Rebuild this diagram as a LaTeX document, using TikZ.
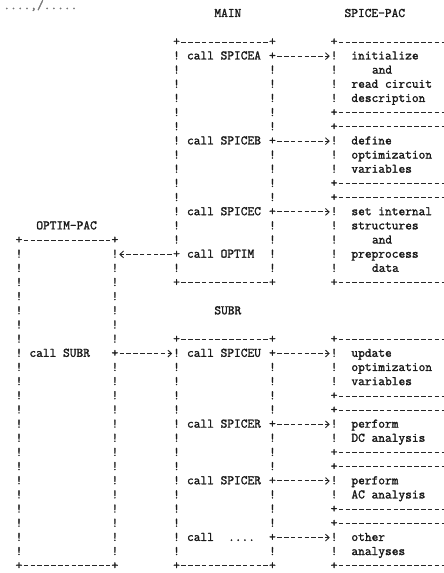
\documentclass[tikz,border=0pt]{standalone}
\usepackage{fontspec}
\newfontfamily\tw[FakeBold=1.6]{Latin Modern Mono}
\usetikzlibrary{arrows.meta}
\begin{document}
\begin{tikzpicture}[x=6.85bp, y=-14.16bp]
\tikzset{
 ch/.style={font=\tw\fontsize{13.05bp}{14bp}\selectfont, text=black!90, inner sep=0pt, text height=6.6bp, text depth=0pt, anchor=center},
 wd/.style={ch, anchor=west},
 dl/.style={draw=black!85, line width=0.95bp, dash pattern=on 4.6bp off 2.25bp, dash phase=5.75bp},
 conn/.style={dl, -{Straight Barb[length=3.6bp,width=6.8bp,line width=0.95bp]}, shorten >=0.8bp},
}
% canvas: col c centre at 19bp+6.85bp*c, row r centre at 42bp+14.16bp*r from top
\useasboundingbox[fill=white] (-2.774,-2.966) rectangle (62.044,37.5);

% stray scan text at top
\node[wd, text=black!55] (junk) at (-2.3,-2.55) {....,/.....};

% titles
\node[wd] (tMain) at (28.5,-2) {MAIN};
\node[wd] (tSpice) at (47.5,-2) {SPICE-PAC};
\node[wd] (tOptim) at (2.5,13) {OPTIM-PAC};
\node[wd] (tSubr) at (28.5,19) {SUBR};

% ---------------- OPTIM-PAC box
\node[ch] (otl) at (0,14) {+};
\node[ch] (otr) at (14,14) {+};
\node[ch] (obl) at (0,37) {+};
\node[ch] (obr) at (14,37) {+};
\draw[dl] (otl.east) -- (otr.west);
\draw[dl] (obl.east) -- (obr.west);
\foreach \r in {15,16,...,36} \node[ch] (oL\r) at (0,\r) {!};
\foreach \r in {15,16,...,21} \node[ch] (oR\r) at (14,\r) {!};
\foreach \r in {23,24,...,36} \node[ch] (oR\r) at (14,\r) {!};
\node[ch] (oP22) at (14,22) {+};
\node[wd] (callSubr) at (1.5,22) {call SUBR};

% ---------------- MAIN box
\node[ch] (mtl) at (23,0) {+};
\node[ch] (mtr) at (37,0) {+};
\node[ch] (mbl) at (23,17) {+};
\node[ch] (mbr) at (37,17) {+};
\draw[dl] (mtl.east) -- (mtr.west);
\draw[dl] (mbl.east) -- (mbr.west);
\foreach \r in {1,2,...,14,16} \node[ch] (mL\r) at (23,\r) {!};
\node[ch] (mP15) at (23,15) {+};
\foreach \r in {2,3,4,5,6,8,9,10,11,13,14,15,16} \node[ch] (mR\r) at (37,\r) {!};
\foreach \r in {1,7,12} \node[ch] (mP\r) at (37,\r) {+};
\node[wd] (cA) at (24.5,1) {call SPICEA};
\node[wd] (cB) at (24.5,7) {call SPICEB};
\node[wd] (cC) at (24.5,12) {call SPICEC};
\node[wd] (cO) at (24.5,15) {call OPTIM};

% ---------------- SUBR box
\node[ch] (stl) at (23,21) {+};
\node[ch] (str) at (37,21) {+};
\node[ch] (sbl) at (23,37) {+};
\node[ch] (sbr) at (37,37) {+};
\draw[dl] (stl.east) -- (str.west);
\draw[dl] (sbl.east) -- (sbr.west);
\foreach \r in {22,23,...,36} \node[ch] (sL\r) at (23,\r) {!};
\foreach \r in {23,24,25,26,28,29,30,32,33,34,36} \node[ch] (sR\r) at (37,\r) {!};
\foreach \r in {22,27,31,35} \node[ch] (sP\r) at (37,\r) {+};
\node[wd] (cU) at (24.5,22) {call SPICEU};
\node[wd] (cR1) at (24.5,27) {call SPICER};
\node[wd] (cR2) at (24.5,31) {call SPICER};
\node[wd] (cX) at (24.5,35) {call};
\node[wd] (cDots) at (30.5,35) {....};

% ---------------- SPICE-PAC boxes
\foreach \r in {0,5,6,10,11,17,21,25,26,29,30,33,34,37} {
  \node[ch] (kP\r) at (46,\r) {+};
  \coordinate (kE\r) at (63.5,\r);
  \draw[dl] (kP\r.east) -- (kE\r);
}
\foreach \r in {1,2,3,4,7,8,9,12,13,14,15,16,22,23,24,27,28,31,32,35,36} \node[ch] (kL\r) at (46,\r) {!};
\node[wd] (a1) at (48.5,1) {initialize};
\node[wd] (a2) at (51.5,2) {and};
\node[wd] (a3) at (48.5,3) {read circuit};
\node[wd] (a4) at (48.5,4) {description};
\node[wd] (b1) at (48.5,7) {define};
\node[wd] (b2) at (48.5,8) {optimization};
\node[wd] (b3) at (48.5,9) {variables};
\node[wd] (c1) at (48.5,12) {set internal};
\node[wd] (c2) at (48.5,13) {structures};
\node[wd] (c3) at (51.5,14) {and};
\node[wd] (c4) at (48.5,15) {preprocess};
\node[wd] (c5) at (51.5,16) {data};
\node[wd] (d1) at (48.5,22) {update};
\node[wd] (d2) at (48.5,23) {optimization};
\node[wd] (d3) at (48.5,24) {variables};
\node[wd] (e1) at (48.5,27) {perform};
\node[wd] (e2) at (48.5,28) {DC analysis};
\node[wd] (f1) at (48.5,31) {perform};
\node[wd] (f2) at (48.5,32) {AC analysis};
\node[wd] (g1) at (48.5,35) {other};
\node[wd] (g2) at (48.5,36) {analyses};

% ---------------- connectors
\draw[conn] (mP1.east) -- (kL1.west);
\draw[conn] (mP7.east) -- (kL7.west);
\draw[conn] (mP12.east) -- (kL12.west);
\draw[conn] (mP15.west) -- (oR15.east);
\draw[conn] (oP22.east) -- (sL22.west);
\draw[conn] (sP22.east) -- (kL22.west);
\draw[conn] (sP27.east) -- (kL27.west);
\draw[conn] (sP31.east) -- (kL31.west);
\draw[conn] (sP35.east) -- (kL35.west);
\end{tikzpicture}
\end{document}
